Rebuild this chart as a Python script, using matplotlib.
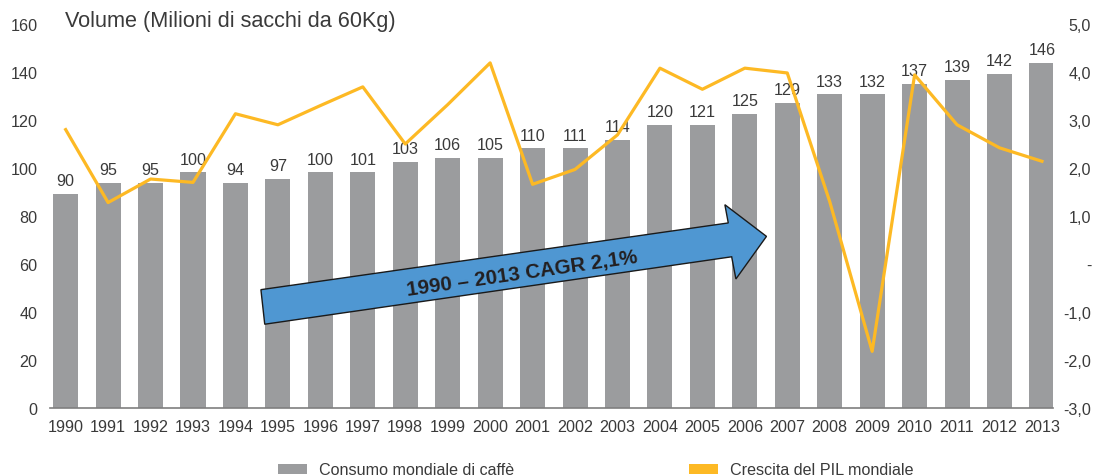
import matplotlib
matplotlib.use("Agg")
import matplotlib.pyplot as plt
from matplotlib.patches import Polygon, Patch

plt.rcParams['font.family'] = ['Liberation Sans', 'DejaVu Sans']

# data
years = [str(y) for y in range(1990, 2014)]
volume = [89.2, 93.8, 93.8, 98.3, 93.8, 95.4, 98.3, 98.3, 102.5, 104.2, 104.2, 108.3,
          108.3, 111.7, 117.9, 117.9, 122.5, 127.1, 130.8, 130.8, 135.0, 136.7, 139.2, 143.8]
volume_labels = ['90', '95', '95', '100', '94', '97', '100', '101', '103', '106', '105', '110',
                 '111', '114', '120', '121', '125', '129', '133', '132', '137', '139', '142', '146']
gdp = [2.80, 1.28, 1.77, 1.70, 3.13, 2.90, 3.30, 3.69, 2.50, 3.32, 4.19, 1.66,
       1.97, 2.69, 4.08, 3.64, 4.08, 3.98, 1.30, -1.82, 3.94, 2.90, 2.42, 2.14]
right_ticks = [5, 4, 3, 2, 1, 0, -1, -2, -3]
right_labels = ['5,0', '4,0', '3,0', '2,0', '1,0', '-', '-1,0', '-2,0', '-3,0']

bar_color = '#9b9c9e'
line_color = '#fdb924'
arrow_color = '#4f97d2'
text_color = '#3a3a3a'
fs = 11.6

fig = plt.figure(figsize=(10.93, 4.77), dpi=100)
ax = fig.add_axes([0.0457, 0.1426, 0.9177, 0.805])
x = list(range(len(years)))

ax.bar(x, volume, width=0.59, color=bar_color, zorder=2)
for xi, v, lab in zip(x, volume, volume_labels):
    ax.annotate(lab, (xi, v), xytext=(0, 4), textcoords='offset points',
                ha='center', va='bottom', fontsize=fs, color=text_color, zorder=3)

ax.set_xlim(-0.37, 23.26)
ax.set_ylim(0, 160)
ax.set_yticks(range(0, 161, 20))
ax.set_xticks(x)
ax.set_xticklabels(years)
ax.tick_params(axis='both', length=0, labelsize=fs, labelcolor=text_color)
ax.tick_params(axis='y', pad=9)
ax.tick_params(axis='x', pad=8)
for s in ['top', 'left', 'right']:
    ax.spines[s].set_visible(False)
ax.spines['bottom'].set_color('#7f7f7f')
ax.spines['bottom'].set_linewidth(1.2)

# CAGR arrow
arrow_pts = [(4.60, 49.3), (15.61, 77.1), (15.53, 84.7), (16.51, 71.5),
             (15.79, 53.75), (15.69, 63.0), (4.69, 34.9)]
ax.add_patch(Polygon(arrow_pts, closed=True, facecolor=arrow_color,
                     edgecolor='#1a1a1a', linewidth=1.0, zorder=4))
ax.text(10.75, 56.3, '1990 \u2013 2013 CAGR 2,1%', rotation=8.2, rotation_mode='anchor',
        ha='center', va='center', fontsize=14.8, fontweight='bold', color='#231f20', zorder=5)

ax2 = ax.twinx()
ax2.plot(x, gdp, color=line_color, linewidth=2.3, zorder=6)
ax2.set_ylim(-3, 5)
ax2.set_yticks(right_ticks)
ax2.set_yticklabels(right_labels, ha='right')
ax2.tick_params(axis='y', length=0, labelsize=fs, labelcolor=text_color, pad=27.5)
for s in ['top', 'left', 'right', 'bottom']:
    ax2.spines[s].set_visible(False)

fig.text(0.0595, 0.955, 'Volume (Milioni di sacchi da 60Kg)', fontsize=15.6,
         color=text_color, ha='left', va='center')

handles = [Patch(facecolor=bar_color), Patch(facecolor=line_color)]
fig.legend(handles, ['Consumo mondiale di caff\u00e8', 'Crescita del PIL mondiale'],
           loc='center', bbox_to_anchor=(0.545, 0.013), ncol=2, frameon=False,
           fontsize=fs, handlelength=1.8, handleheight=0.6, handletextpad=0.7,
           columnspacing=10.9, labelcolor=text_color)

fig.savefig('out.png', dpi=100)
